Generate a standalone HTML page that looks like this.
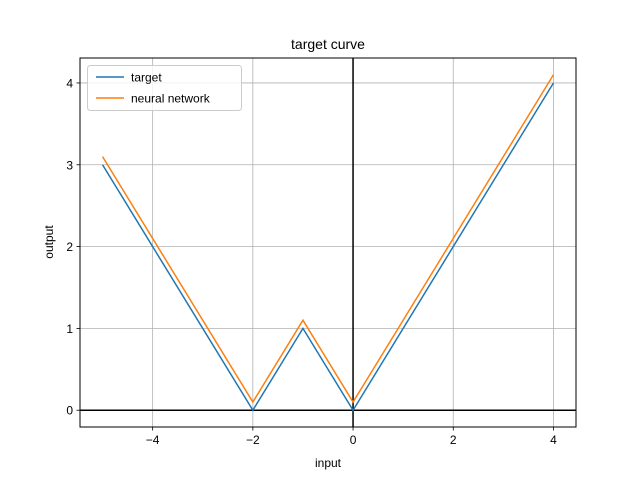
<!DOCTYPE html>
<html><head><meta charset="utf-8"><style>
body{margin:0;background:#fff;}
svg{font-family:"Liberation Sans","DejaVu Sans",sans-serif;}
</style></head><body>
<svg id="chart" width="640" height="480">
<rect width="640" height="480" fill="#fff"/>
<g id="grid"></g>
<g id="series"></g>
<rect x="80" y="58" width="496" height="369" fill="none" stroke="#000" stroke-width="1"/>
<g id="ticks"></g>
<text x="328" y="49" text-anchor="middle" font-size="14">target curve</text>
<text x="328" y="467" text-anchor="middle" font-size="12">input</text>
<text transform="translate(53,242) rotate(-90)" text-anchor="middle" font-size="12">output</text>
<g>
<rect x="87.5" y="65.5" width="154" height="45" rx="3" fill="#fff" fill-opacity="0.8" stroke="#ccc"/>
<line x1="96" y1="77" x2="124" y2="77" stroke="#1f77b4" stroke-width="1.5"/>
<text x="131" y="81.5" font-size="12">target</text>
<line x1="96" y1="98" x2="124" y2="98" stroke="#ff7f0e" stroke-width="1.5"/>
<text x="131" y="102.5" font-size="12">neural network</text>
</g>
</svg>
<script>
const xs=[-5,-2,-1,0,4];
const target=[3,0,1,0,4];
const nn=[3.1,0.1,1.1,0.1,4.1];
const xTicks=[-4,-2,0,2,4];
const yTicks=[0,1,2,3,4];
const xmin=-5.45,xmax=4.45,ymin=-0.205,ymax=4.305;
const L=80,R=576,T=58,B=427;
const sx=v=>L+(v-xmin)/(xmax-xmin)*(R-L);
const sy=v=>B-(v-ymin)/(ymax-ymin)*(B-T);
const NS="http://www.w3.org/2000/svg";
function mk(t,a,p){const e=document.createElementNS(NS,t);for(const k in a)e.setAttribute(k,a[k]);p.appendChild(e);return e;}
const grid=document.getElementById('grid'),ticks=document.getElementById('ticks'),ser=document.getElementById('series');
xTicks.forEach(v=>{const x=sx(v);
const g=mk('line',{x1:x,x2:x,y1:T,y2:B,stroke:'#b0b0b0','stroke-width':0.8},grid);


mk('line',{x1:x,x2:x,y1:B,y2:B+3.5,stroke:'#000','stroke-width':0.8},ticks);
const t=mk('text',{x:x,y:B+17,'text-anchor':'middle','font-size':12},ticks);t.textContent=(v<0?'\u2212':'')+Math.abs(v);

});
yTicks.forEach(v=>{const y=sy(v);
const g=mk('line',{x1:L,x2:R,y1:y,y2:y,stroke:'#b0b0b0','stroke-width':0.8},grid);


mk('line',{x1:L-3.5,x2:L,y1:y,y2:y,stroke:'#000','stroke-width':0.8},ticks);
const t=mk('text',{x:L-7,y:y+4.5,'text-anchor':'end','font-size':12},ticks);t.textContent=v;

});
const ax=mk('line',{x1:L,x2:R,y1:sy(0),y2:sy(0),stroke:'#000','stroke-width':1.5},grid);


const ay=mk('line',{x1:sx(0),x2:sx(0),y1:T,y2:B,stroke:'#000','stroke-width':1.5},grid);


function line(vals,c,name){const p=mk('polyline',{points:xs.map((x,i)=>sx(x)+','+sy(vals[i])).join(' '),fill:'none',stroke:c,'stroke-width':1.5},ser);

}
line(target,'#1f77b4','target-line');
line(nn,'#ff7f0e','neural-network-line');
</script>
</body></html>
